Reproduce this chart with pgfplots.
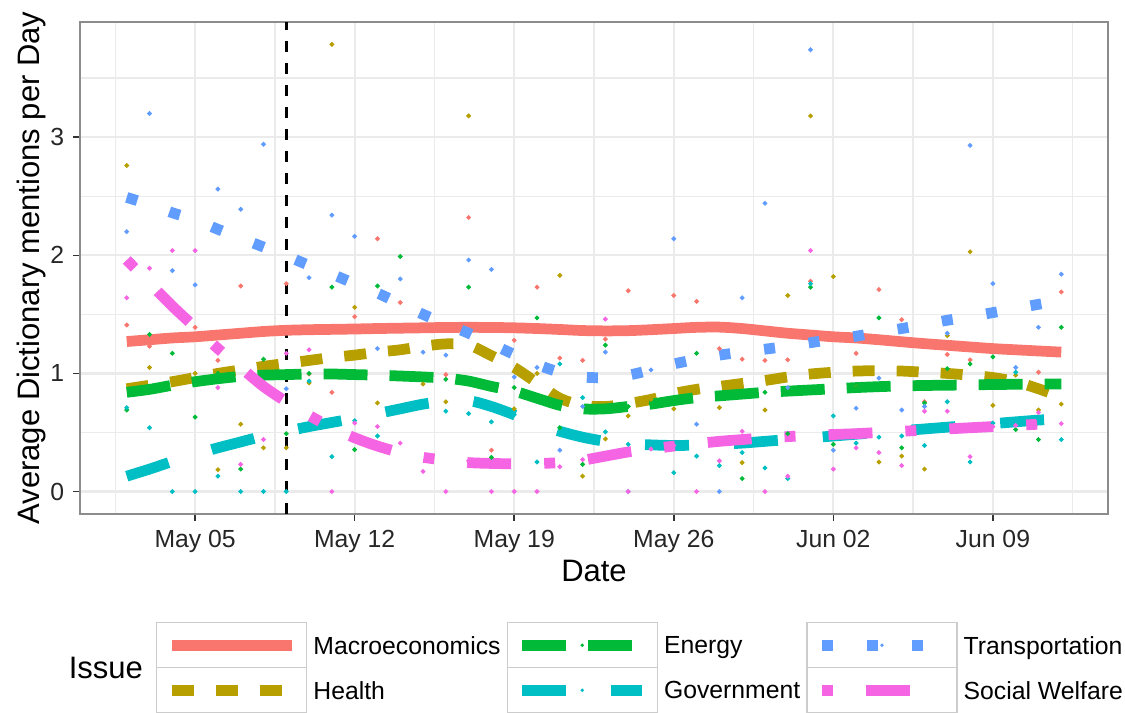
\documentclass[border=0pt]{standalone}
\usepackage{pgfplots}
\usepackage{pgfplotstable}
\pgfplotsset{compat=1.18}
\usepackage{fontspec}
\setmainfont{Liberation Sans}
\definecolor{cMac}{HTML}{F8766D}
\definecolor{cHea}{HTML}{B79F00}
\definecolor{cEne}{HTML}{00BA38}
\definecolor{cGov}{HTML}{00BFC4}
\definecolor{cTra}{HTML}{619CFF}
\definecolor{cSoc}{HTML}{F564E3}
\definecolor{keygray}{HTML}{CCCCCC}
\definecolor{gridgray}{HTML}{EBEBEB}
\definecolor{framegray}{HTML}{8C8C8C}

\pgfplotstableread{
day mac hea ene gov tra soc
2 1.41 2.76 0.69 0.71 2.20 1.64
3 1.23 1.05 1.33 0.54 3.20 1.89
4 1.30 0.95 1.17 0 1.87 2.04
5 1.39 1.00 0.63 0 1.75 2.04
6 1.11 0.185 1.00 0.13 2.56 0.88
7 1.74 0.57 0.19 0 2.39 0.23
8 1.35 0.37 1.12 0 2.94 0.44
9 1.76 0.37 0.49 0 0.87 1.17
10 0.995 0.92 1.00 0.935 1.81 1.20
11 0.84 3.785 1.73 0.295 2.34 0
12 1.48 1.56 0.355 0.60 2.16 0.58
13 2.14 0.75 1.74 0.47 1.21 0.55
14 1.60 1.20 1.99 0.68 1.80 0.41
15 1.39 0.91 0.98 0.73 1.18 0.17
16 0.99 0.76 0.95 0.68 1.155 0
17 2.32 3.18 1.73 0.66 1.96 0.26
18 0.35 1.15 0.29 0.59 1.88 0
19 1.28 0.70 0.88 0.65 0.97 0
20 1.73 1.00 1.47 0.25 1.05 0
21 1.13 1.83 0.54 1.08 0.35 0.21
22 1.11 0.13 0.23 0.795 0.72 0.27
23 1.29 0.445 1.24 0.505 1.18 1.46
24 1.70 0.64 0.72 0.40 0 0
25 1.38 0.78 0.74 0.40 1.03 0.36
26 1.66 0.70 0.77 0.16 2.14 0.39
27 1.61 0.86 1.17 0.30 0.57 0
28 1.21 0.71 0.81 0.22 0 0.26
29 1.12 0.245 0.11 0.33 1.64 0.51
30 1.11 0.69 0.84 0.20 2.44 0
31 1.115 1.66 0.49 0.11 0.88 0.13
32 1.78 3.18 1.73 1.76 3.74 2.04
33 1.31 1.82 0.40 0.64 0.35 0.19
34 1.17 0.885 0.88 0.41 0.705 0.37
35 1.71 0.25 1.47 0.46 0.96 0.33
36 1.455 0.30 0.37 0.47 0.69 0.22
37 0.76 0.19 0.75 0.39 0.72 0.68
38 1.16 1.32 1.04 0.76 1.34 0.68
39 1.115 2.03 1.08 0.25 2.93 0.295
40 1.22 0.73 1.14 0.58 1.76 0.55
41 1.20 0.985 0.525 1.01 1.05 0.56
42 1.01 0.69 0.44 0.61 1.39 0.67
43 1.69 0.74 1.39 0.44 1.84 0.575
}\pts

\pgfplotstableread{
day mac hea ene gov tra soc
2 1.270 0.870 0.840 0.130 2.490 1.960
3 1.285 0.900 0.865 0.190 2.430 1.765
4 1.300 0.930 0.900 0.255 2.360 1.570
5 1.310 0.965 0.930 0.315 2.300 1.390
6 1.325 1.000 0.955 0.370 2.220 1.210
7 1.340 1.030 0.975 0.420 2.145 1.050
8 1.355 1.060 0.985 0.470 2.070 0.890
9 1.365 1.085 0.990 0.510 1.995 0.760
10 1.370 1.110 0.995 0.550 1.915 0.645
11 1.373 1.135 0.995 0.585 1.840 0.540
12 1.376 1.155 0.990 0.620 1.760 0.455
13 1.380 1.180 0.985 0.660 1.680 0.385
14 1.383 1.200 0.978 0.700 1.590 0.330
15 1.386 1.230 0.970 0.740 1.500 0.290
16 1.389 1.250 0.960 0.765 1.420 0.265
17 1.390 1.240 0.935 0.770 1.340 0.245
18 1.389 1.150 0.890 0.720 1.250 0.238
19 1.386 1.050 0.850 0.650 1.160 0.235
20 1.380 0.920 0.790 0.570 1.075 0.237
21 1.372 0.790 0.730 0.510 1.010 0.245
22 1.363 0.730 0.700 0.460 0.970 0.265
23 1.360 0.720 0.700 0.425 0.965 0.300
24 1.362 0.745 0.720 0.405 0.985 0.335
25 1.370 0.780 0.740 0.395 1.030 0.360
26 1.380 0.830 0.770 0.390 1.080 0.385
27 1.390 0.865 0.795 0.393 1.120 0.405
28 1.392 0.890 0.810 0.400 1.155 0.425
29 1.380 0.915 0.825 0.410 1.180 0.440
30 1.360 0.940 0.840 0.425 1.205 0.455
31 1.340 0.970 0.850 0.440 1.230 0.465
32 1.325 0.995 0.860 0.455 1.260 0.475
33 1.310 1.010 0.870 0.470 1.290 0.483
34 1.300 1.020 0.880 0.485 1.315 0.490
35 1.285 1.023 0.888 0.500 1.350 0.500
36 1.268 1.020 0.894 0.515 1.380 0.510
37 1.252 1.010 0.898 0.530 1.415 0.520
38 1.238 1.000 0.900 0.545 1.450 0.530
39 1.224 0.985 0.903 0.560 1.480 0.540
40 1.210 0.965 0.906 0.575 1.515 0.550
41 1.200 0.930 0.908 0.590 1.550 0.560
42 1.190 0.870 0.910 0.605 1.585 0.570
43 1.180 0.800 0.910 0.615 1.620 0.580
}\fit

\pgfplotsset{
  keyimg/.style={legend image code/.code={
    \draw[solid, line width=0.6pt, draw=keygray, fill=white] (0pt,-9pt) rectangle (60pt,9pt);
    \path[fill, draw=none] (30pt,0pt) circle (0.75pt);
    \draw (6pt,0pt) -- (54pt,0pt);
  }},
  pts/.style={only marks, mark=*, mark size=0.75pt, forget plot},
  fitline/.style={line width=4.3pt, line cap=butt, line join=round, smooth, forget plot},
}

\begin{document}
\begin{tikzpicture}
\path[use as bounding box] (0,0) rectangle (450pt,285.2pt);
\begin{axis}[
  at={(32pt,79.6pt)}, anchor=south west,
  width=411.2pt, height=196.8pt, scale only axis,
  xmin=-0.05, xmax=45.05, ymin=-0.19, ymax=3.975,
  axis line style={draw=framegray, line width=0.7pt},
  xtick={5,12,19,26,33,40},
  xticklabels={May 05,May 12,May 19,May 26,Jun 02,Jun 09},
  minor xtick={1.5,8.5,15.5,22.5,29.5,36.5,43.5},
  ytick={0,1,2,3},
  minor ytick={0.5,1.5,2.5,3.5},
  grid=both,
  major grid style={draw=gridgray, line width=0.9pt},
  minor grid style={draw=gridgray, line width=0.5pt},
  tick align=outside,
  major tick length=2.8pt, minor tick length=0pt,
  tick style={draw=black!80, line width=0.6pt},
  xtick pos=bottom, ytick pos=left,
  ticklabel style={font=\fontsize{9.9}{11}\selectfont, text=black!85},
  /pgf/number format/assume math mode=true,
  xlabel={Date},
  ylabel={Average Dictionary mentions per Day},
  label style={font=\fontsize{12.4}{14}\selectfont, inner sep=0pt},
  xlabel style={at={(axis description cs:0.5,-0.0935)}, anchor=north},
  ylabel style={at={(axis description cs:-0.0331,0.5)}, anchor=south, rotate=0},
  legend columns=3,
  legend cell align=left,
  legend style={at={(0.0739,-0.2195)}, anchor=north west, draw=none, fill=none,
    inner sep=0pt, outer sep=0pt, row sep=-0.6pt, column sep=0pt,
    nodes={inner xsep=2.4pt, inner ysep=0pt, text depth=0pt, font=\fontsize{9.9}{11}\selectfont},
    name=legmat},
]
% raw daily points
\addplot[pts, cMac] table[x=day, y=mac] {\pts};
\addplot[pts, cHea] table[x=day, y=hea] {\pts};
\addplot[pts, cEne] table[x=day, y=ene] {\pts};
\addplot[pts, cGov] table[x=day, y=gov] {\pts};
\addplot[pts, cTra] table[x=day, y=tra] {\pts};
\addplot[pts, cSoc] table[x=day, y=soc] {\pts};
% reference date
\addplot[black, line width=1.3pt, dash pattern=on 4.4pt off 4.4pt, forget plot] coordinates {(9,-0.19) (9,3.975)};
% smoothed lines
\addplot[fitline, color=cMac] table[x=day, y=mac] {\fit};
\addplot[fitline, color=cHea, dash pattern=on 8.8pt off 8.8pt] table[x=day, y=hea] {\fit};
\addplot[fitline, color=cEne, dash pattern=on 17.6pt off 8.8pt] table[x=day, y=ene] {\fit};
\addplot[fitline, color=cGov, dash pattern=on 17.6pt off 18pt] table[x=day, y=gov] {\fit};
\addplot[fitline, color=cTra, dash pattern=on 4.4pt off 13.6pt] table[x=day, y=tra] {\fit};
\addplot[fitline, color=cSoc, dash pattern=on 4.4pt off 13.2pt on 17.6pt off 13.2pt] table[x=day, y=soc] {\fit};
% legend (filled row-wise: 3 columns x 2 rows)
\addlegendimage{keyimg, color=cMac, line width=4.3pt, line cap=butt}
\addlegendentry{Macroeconomics}
\addlegendimage{keyimg, color=cEne, line width=4.3pt, line cap=butt, dash pattern=on 17.6pt off 8.8pt}
\addlegendentry{Energy}
\addlegendimage{keyimg, color=cTra, line width=4.3pt, line cap=butt, dash pattern=on 4.4pt off 13.6pt}
\addlegendentry{Transportation}
\addlegendimage{keyimg, color=cHea, line width=4.3pt, line cap=butt, dash pattern=on 8.8pt off 8.8pt}
\addlegendentry{Health}
\addlegendimage{keyimg, color=cGov, line width=4.3pt, line cap=butt, dash pattern=on 17.6pt off 18pt}
\addlegendentry{Government}
\addlegendimage{keyimg, color=cSoc, line width=4.3pt, line cap=butt, dash pattern=on 4.4pt off 13.2pt on 17.6pt off 13.2pt}
\addlegendentry{Social Welfare}
\end{axis}
\node[anchor=east, inner sep=0pt, font=\fontsize{12.4}{14}\selectfont] at ([xshift=-5pt]legmat.west) {Issue};
\end{tikzpicture}
\end{document}
